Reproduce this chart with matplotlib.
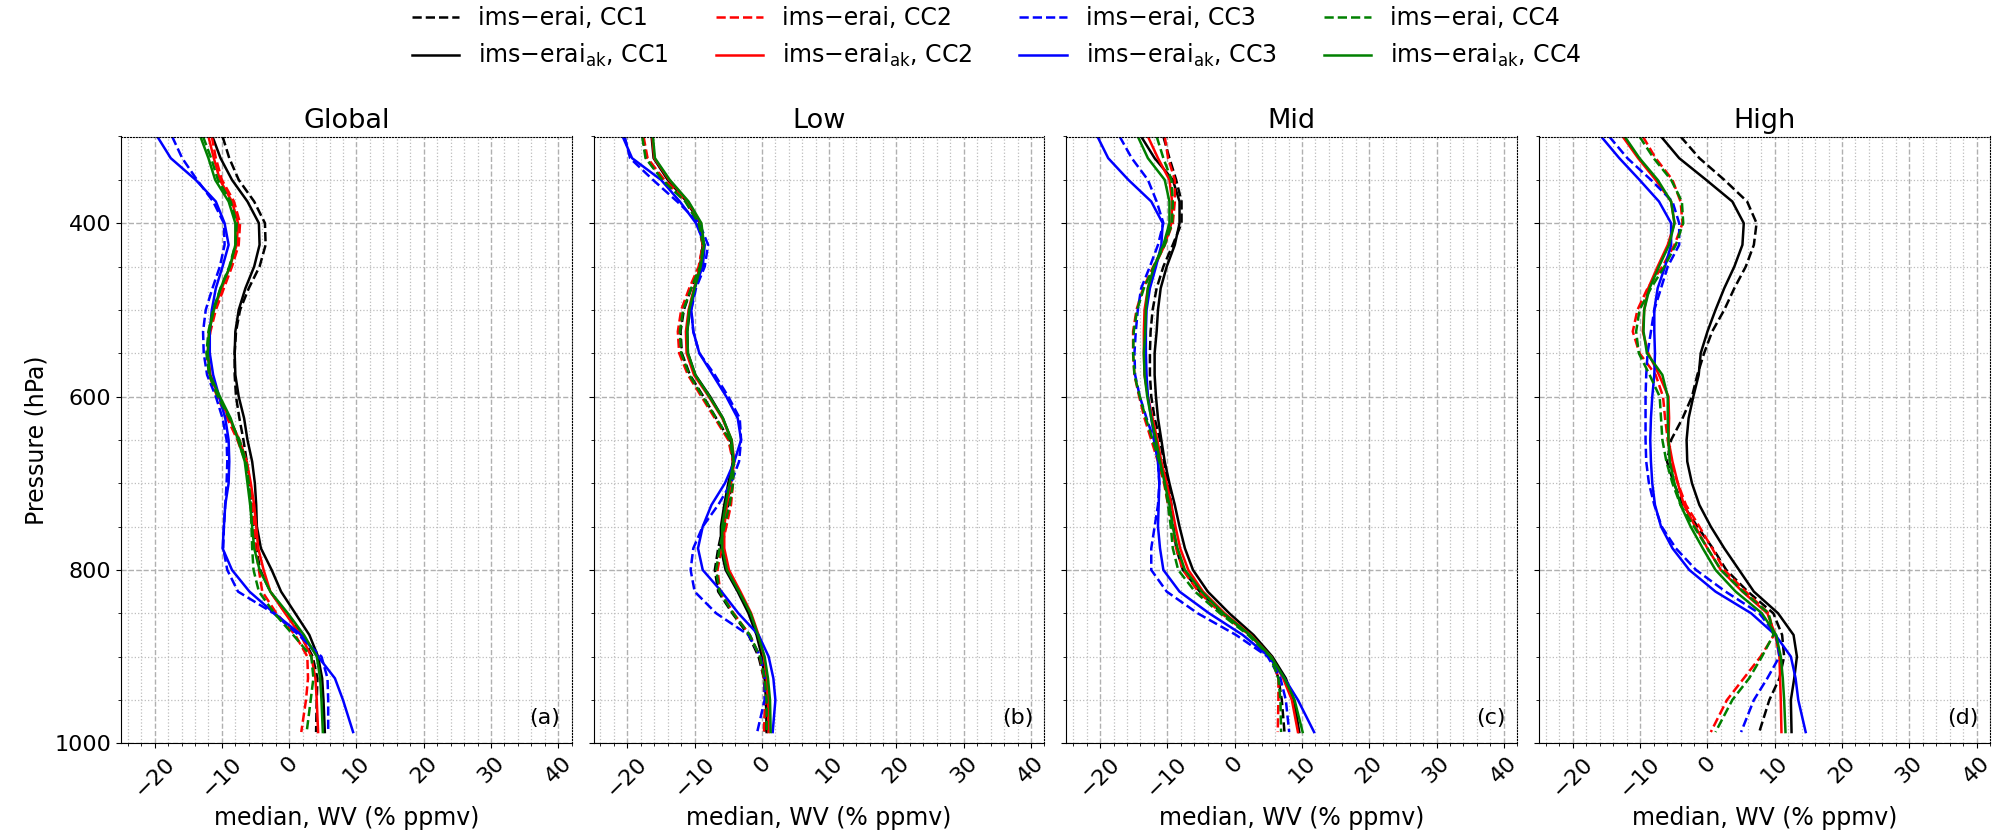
import numpy as np
import matplotlib
matplotlib.use("Agg")
import matplotlib.pyplot as plt
from matplotlib.ticker import MultipleLocator

# pressure levels (hPa)
pres = [300, 325, 350, 375, 400, 425, 450, 475, 500, 525, 550, 575, 600, 625,
        650, 675, 700, 725, 750, 775, 800, 825, 850, 875, 900, 925, 950, 987]

regions = ["Global", "Low", "Mid", "High"]
letters = ["(a)", "(b)", "(c)", "(d)"]
ccs = ["CC1", "CC2", "CC3", "CC4"]
colors = ["k", "r", "b", "g"]

# median WV differences (% ppmv); "erai" = dashed, "ak" = solid
glob = {
    "erai_CC1": [-9.9, -8.9, -7.5, -5.2, -3.6, -3.5, -4.4, -6.0, -7.3, -7.9, -8.1, -8.1, -7.9, -7.4,
                 -6.8, -6.3, -5.9, -5.6, -5.3, -4.9, -4.3, -2.8, -0.5, 1.8, 3.5, 4.2, 4.1, 4.0],
    "ak_CC1": [-11.4, -10.2, -8.5, -6.2, -4.5, -4.4, -5.2, -6.5, -7.5, -8.0, -8.1, -8.0, -7.5, -6.7,
               -6.2, -5.5, -5.1, -4.9, -4.8, -4.2, -2.6, -1.2, 0.9, 3.0, 4.3, 4.9, 5.1, 5.3],
    "erai_CC2": [-11.5, -10.9, -10.0, -8.2, -7.3, -7.5, -8.5, -9.7, -10.9, -11.7, -12.2, -11.9, -10.7, -9.2,
                 -7.7, -6.5, -6.0, -5.5, -5.2, -5.0, -4.5, -4.0, -1.9, 0.9, 2.7, 2.8, 2.5, 1.8],
    "ak_CC2": [-12.0, -11.2, -10.3, -8.5, -7.6, -7.8, -8.8, -10.0, -11.2, -11.9, -12.1, -11.7, -10.5, -8.9,
               -7.4, -6.3, -5.7, -5.2, -4.9, -4.6, -3.8, -2.8, -0.6, 1.7, 3.3, 3.9, 4.1, 4.3],
    "erai_CC3": [-17.4, -15.9, -13.7, -11.3, -9.7, -9.6, -10.3, -11.4, -12.4, -12.8, -12.7, -12.2, -10.9, -9.9,
                 -9.3, -9.2, -9.3, -9.5, -9.7, -9.8, -9.2, -7.6, -2.3, 1.4, 4.8, 5.7, 5.8, 5.8],
    "ak_CC3": [-19.6, -17.6, -13.9, -10.9, -9.6, -9.0, -9.9, -10.9, -11.5, -11.8, -11.8, -11.3, -10.4, -9.5,
               -9.0, -8.9, -9.0, -9.5, -9.7, -9.9, -8.5, -5.9, -2.2, 1.8, 4.3, 6.8, 8.0, 9.5],
    "erai_CC4": [-12.8, -11.6, -10.6, -8.7, -7.8, -8.0, -8.9, -10.2, -11.3, -12.0, -12.3, -11.9, -10.6, -8.9,
                 -7.4, -6.4, -6.0, -5.7, -5.6, -5.5, -5.3, -4.5, -2.2, 0.6, 3.3, 3.6, 3.2, 2.6],
    "ak_CC4": [-13.2, -12.0, -11.0, -9.0, -8.0, -8.0, -8.8, -10.2, -11.2, -11.9, -12.1, -11.8, -10.3, -8.7,
               -7.6, -6.6, -6.2, -5.8, -5.5, -5.2, -4.4, -2.8, -0.2, 2.2, 4.1, 4.6, 4.8, 5.0],
}

low = {
    "erai_CC1": [-17.7, -17.2, -14.7, -11.3, -9.5, -8.8, -9.3, -10.5, -11.6, -12.1, -11.9, -10.7, -8.7, -6.8,
                 -4.8, -4.3, -4.5, -5.0, -5.8, -6.5, -7.0, -6.5, -4.4, -2.0, -0.5, 0.3, 0.5, 0.4],
    "ak_CC1": [-16.4, -16.1, -14.0, -11.2, -9.2, -8.8, -9.2, -10.0, -10.7, -11.1, -11.0, -9.9, -7.7, -5.8,
               -4.6, -4.3, -5.0, -5.6, -6.1, -6.1, -5.4, -3.6, -2.0, -0.8, 0.0, 0.4, 0.6, 0.7],
    "erai_CC2": [-17.6, -17.0, -14.5, -11.2, -9.4, -8.8, -9.4, -10.8, -12.0, -12.5, -12.3, -11.0, -9.0, -7.0,
                 -5.0, -4.3, -4.3, -4.6, -5.3, -6.0, -6.6, -6.2, -4.2, -1.8, -0.3, 0.3, 0.5, 0.3],
    "ak_CC2": [-16.3, -16.0, -13.8, -11.0, -9.1, -8.7, -9.2, -10.1, -10.9, -11.3, -11.2, -10.1, -7.9, -5.9,
               -4.5, -4.1, -4.6, -5.2, -5.6, -5.6, -4.9, -3.2, -1.6, -0.5, 0.3, 0.7, 0.9, 1.0],
    "erai_CC3": [-20.4, -19.6, -16.2, -12.6, -9.3, -8.0, -8.5, -9.8, -10.5, -10.2, -9.3, -7.0, -5.0, -3.3,
                 -3.1, -3.4, -4.6, -6.5, -8.8, -10.2, -10.6, -10.0, -6.8, -2.0, -0.2, 0.4, 0.4, -0.7],
    "ak_CC3": [-20.7, -19.3, -15.0, -12.2, -9.8, -8.5, -8.8, -10.0, -10.5, -10.2, -9.3, -7.3, -5.3, -3.6,
               -3.1, -4.1, -5.5, -7.5, -8.8, -9.5, -8.8, -6.0, -3.5, -0.5, 1.0, 1.7, 2.0, 1.6],
    "erai_CC4": [-17.8, -17.3, -14.8, -11.4, -9.4, -8.7, -9.2, -10.5, -11.7, -12.2, -12.0, -10.8, -8.8, -6.8,
                 -4.8, -4.2, -4.3, -4.8, -5.6, -6.3, -6.8, -6.3, -4.3, -1.8, -0.3, 0.4, 0.7, 0.7],
    "ak_CC4": [-16.2, -15.9, -13.7, -10.9, -9.0, -8.6, -9.1, -10.0, -10.8, -11.1, -11.0, -9.9, -7.8, -5.8,
               -4.5, -4.2, -4.8, -5.4, -5.9, -5.9, -5.2, -3.4, -1.7, -0.6, 0.4, 0.9, 1.2, 1.3],
}

mid = {
    "erai_CC1": [-10.6, -9.7, -8.7, -7.9, -7.9, -9.2, -10.6, -11.6, -12.2, -12.5, -12.6, -12.6, -12.4, -11.9,
                 -11.1, -10.5, -9.9, -9.4, -9.1, -8.7, -7.7, -5.2, -1.8, 2.3, 5.5, 6.5, 7.0, 7.4],
    "ak_CC1": [-13.9, -11.9, -9.2, -8.2, -8.2, -8.9, -10.1, -11.0, -11.4, -11.6, -11.9, -11.9, -11.7, -11.4,
               -10.9, -10.4, -9.7, -8.9, -8.2, -7.4, -6.2, -4.0, -0.8, 2.8, 5.6, 7.6, 8.8, 9.6],
    "erai_CC2": [-10.4, -9.9, -8.9, -8.9, -9.2, -10.4, -12.1, -13.6, -14.6, -15.1, -15.1, -14.9, -14.2, -13.4,
                 -12.4, -11.4, -10.5, -9.9, -9.3, -8.7, -7.7, -5.4, -2.0, 2.2, 5.4, 6.5, 6.5, 6.4],
    "ak_CC2": [-12.9, -11.4, -9.7, -9.3, -9.4, -10.4, -11.9, -12.9, -13.4, -13.5, -13.5, -13.4, -12.9, -12.2,
               -11.5, -10.9, -10.1, -9.4, -8.8, -8.1, -6.9, -4.7, -1.5, 2.4, 5.4, 7.2, 8.5, 9.4],
    "erai_CC3": [-17.1, -15.3, -12.9, -11.6, -10.6, -11.4, -12.6, -13.9, -14.4, -14.7, -14.9, -14.8, -14.1, -13.1,
                 -12.0, -11.4, -11.2, -11.4, -11.9, -12.4, -12.4, -10.1, -5.5, 0.2, 4.9, 6.8, 7.6, 8.1],
    "ak_CC3": [-20.4, -18.8, -15.8, -12.4, -10.7, -10.9, -11.7, -12.6, -13.1, -13.2, -13.2, -13.1, -12.9, -12.4,
               -11.9, -11.4, -11.2, -11.3, -11.4, -11.1, -10.6, -8.2, -3.8, 1.2, 5.1, 7.4, 9.4, 11.8],
    "erai_CC4": [-11.6, -10.6, -9.4, -9.2, -9.3, -10.4, -12.0, -13.5, -14.5, -15.0, -15.1, -14.9, -14.1, -13.2,
                 -12.2, -11.2, -10.4, -9.9, -9.5, -9.2, -8.4, -5.9, -2.2, 2.0, 5.3, 6.5, 6.8, 6.9],
    "ak_CC4": [-14.4, -12.9, -10.4, -9.7, -9.7, -10.6, -12.0, -12.9, -13.2, -13.3, -13.5, -13.4, -13.0, -12.4,
               -11.7, -11.1, -10.4, -9.7, -9.2, -8.5, -7.4, -4.9, -1.7, 2.3, 5.4, 7.4, 8.9, 10.1],
}

high = {
    "erai_CC1": [-4.0, -1.2, 2.5, 5.9, 7.3, 6.9, 5.7, 4.0, 2.5, 0.7, -0.5, -1.5, -2.3, -3.7,
                 -5.4, -6.0, -5.0, -3.6, -1.5, 0.8, 2.8, 6.0, 9.8, 11.1, 11.4, 10.7, 9.2, 7.7],
    "ak_CC1": [-6.9, -4.2, -0.2, 3.7, 5.4, 5.2, 4.0, 2.5, 1.2, 0.0, -1.0, -1.3, -2.1, -2.8,
               -3.1, -3.0, -2.3, -1.2, 0.5, 2.5, 4.7, 6.9, 10.5, 12.8, 13.3, 12.9, 12.4, 12.5],
    "erai_CC2": [-9.6, -7.7, -5.2, -4.0, -3.7, -4.9, -6.7, -8.9, -10.4, -11.1, -10.1, -7.7, -6.6, -6.3,
                 -5.9, -5.5, -4.4, -3.2, -1.2, 0.7, 2.5, 5.7, 9.1, 9.9, 7.9, 5.4, 2.9, 0.5],
    "ak_CC2": [-12.6, -10.3, -7.7, -5.4, -4.9, -5.9, -7.4, -8.8, -9.4, -9.6, -8.8, -7.2, -5.8, -5.7,
               -5.8, -5.2, -4.4, -3.5, -1.8, 0.0, 2.0, 5.2, 8.9, 10.1, 10.7, 10.8, 10.9, 11.0],
    "erai_CC3": [-14.6, -11.9, -8.4, -5.2, -4.2, -4.2, -5.9, -6.9, -7.9, -8.4, -8.9, -9.1, -9.2, -9.2,
                 -9.2, -9.1, -8.7, -7.9, -6.8, -4.7, -1.7, 2.7, 7.7, 10.2, 10.7, 8.9, 6.9, 5.0],
    "ak_CC3": [-15.8, -13.1, -10.1, -7.2, -5.4, -5.4, -6.3, -7.4, -7.9, -7.9, -7.8, -7.9, -8.2, -8.4,
               -8.5, -8.4, -8.2, -7.8, -6.9, -5.2, -2.7, 1.2, 6.5, 10.1, 12.4, 13.1, 13.5, 14.6],
    "erai_CC4": [-10.1, -8.0, -5.4, -3.8, -3.6, -4.7, -6.4, -8.4, -10.1, -10.6, -10.2, -8.6, -7.1, -6.9,
                 -6.7, -6.1, -5.2, -4.0, -2.0, 0.0, 2.0, 5.3, 9.1, 9.8, 8.1, 6.2, 3.7, 1.2],
    "ak_CC4": [-12.3, -10.1, -7.4, -5.4, -4.9, -5.7, -7.2, -8.6, -9.4, -9.5, -9.0, -6.7, -5.9, -5.9,
               -5.8, -5.6, -4.9, -4.0, -2.5, -0.7, 1.2, 4.2, 8.1, 10.2, 10.9, 11.2, 11.4, 11.6],
}

panels = [glob, low, mid, high]

fig, axes = plt.subplots(1, 4, figsize=(19.93, 8.4), dpi=100)
fig.subplots_adjust(left=0.0607, right=0.9985, bottom=0.1151, top=0.8375, wspace=0.0488)

handles = []
labels = []
for i, ax in enumerate(axes):
    data = panels[i]
    for cc, col in zip(ccs, colors):
        h1, = ax.plot(data["erai_" + cc], pres, color=col, ls="--", lw=1.8)
        h2, = ax.plot(data["ak_" + cc], pres, color=col, ls="-", lw=1.8)
        if i == 0:
            handles += [h1, h2]
            labels += ["ims\u2212erai, " + cc, "ims\u2212erai$_\\mathregular{ak}$, " + cc]

    ax.set_xlim(-25, 42)
    ax.set_ylim(1000, 300)
    ax.xaxis.set_major_locator(MultipleLocator(10))
    ax.xaxis.set_minor_locator(MultipleLocator(2))
    ax.yaxis.set_major_locator(MultipleLocator(200))
    ax.yaxis.set_minor_locator(MultipleLocator(50))
    ax.set_axisbelow(True)
    ax.grid(which="major", ls="--", color="#b0b0b0", lw=1.0)
    ax.grid(which="minor", ls=":", color="#bdbdbd", lw=0.9)
    ax.tick_params(labelsize=16)
    for lab in ax.get_xticklabels():
        lab.set_rotation(45)
    ax.spines["top"].set_linestyle(":")
    ax.spines["right"].set_linestyle(":")
    ax.set_title(regions[i], fontsize=19.5)
    ax.set_xlabel("median, WV (% ppmv)", fontsize=17)
    ax.text(0.975, 0.025, letters[i], transform=ax.transAxes, ha="right", va="bottom", fontsize=16)
    if i == 0:
        ax.set_ylabel("Pressure (hPa)", fontsize=17)
    else:
        ax.set_yticklabels([])

fig.legend(handles, labels, loc="upper center", ncol=4, frameon=False, fontsize=17,
           bbox_to_anchor=(0.5, 1.018))

fig.savefig("out.png", dpi=100)
